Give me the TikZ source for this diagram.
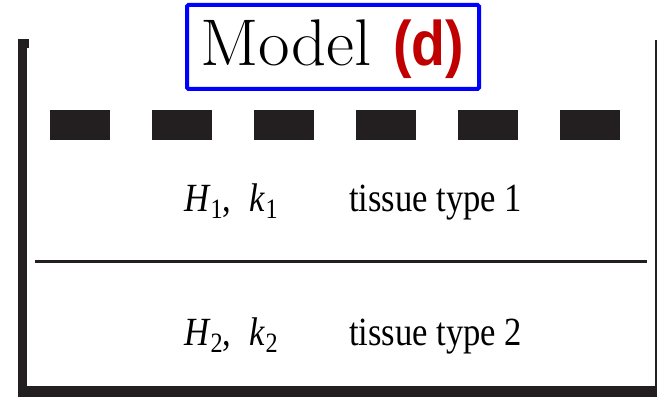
\documentclass[tikz,border=0pt]{standalone}
\usepackage{fontspec}
\newfontfamily\tnr{Liberation Serif}
\newfontfamily\lbs{Liberation Sans}
\definecolor{wallgray}{HTML}{231F20}
\definecolor{titlered}{HTML}{C00000}
\definecolor{boxblue}{HTML}{0000FF}
\newcommand{\mysub}[1]{\raisebox{-7pt}{\fontsize{28}{28}\selectfont #1}}
\newcommand{\rowtext}[1]{\scalebox{0.865}[1]{\fontsize{40}{40}\selectfont\tnr #1}}
\begin{document}
\begin{tikzpicture}[x=1pt,y=1pt,
  wall/.style={fill=wallgray,draw=none},
  dashbar/.style={fill=wallgray,draw=none},
  lbl/.style={inner sep=0pt,anchor=base west}]
\useasboundingbox (0,0) rectangle (657,398);
\fill[white] (0,0) rectangle (657,398);
% container
\path[wall] (18,1) rectangle (27,359);
\path[wall] (18,350) rectangle (29,359);
\path[wall] (18,1) rectangle (664,12);
\path[wall] (655,1) rectangle (664,358);
% dashed top
\foreach \i in {0,...,5} {
  \path[dashbar] ({49.5+102*\i},258) rectangle ({109.5+102*\i},288);
}
% separator
\coordinate (sepL) at (35,136);
\coordinate (sepR) at (647,136);
\draw[line width=3pt,wallgray] (sepL) -- (sepR);
% row texts
\node[lbl] (p1) at (184,186) {\rowtext{\textit{H}\mysub{1}, \;\textit{k}\mysub{1}}};
\node[lbl] (t1) at (349,186) {\rowtext{tissue type 1}};
\node[lbl] (p2) at (184,52) {\rowtext{\textit{H}\mysub{2}, \;\textit{k}\mysub{2}}};
\node[lbl] (t2) at (349,52) {\rowtext{tissue type 2}};
% title
\draw[boxblue,line width=4pt,rounded corners=1.5pt] (187,309) rectangle (479,393);
\node[lbl] (title) at (200,332) {\scalebox{1.04}[1]{\fontsize{66}{66}\selectfont Model}};
\node[lbl] (tag) at (393,332) {\scalebox{0.88}[1]{\lbs\bfseries\color{titlered}\fontsize{63}{63}\selectfont (d)}};
\end{tikzpicture}
\end{document}
